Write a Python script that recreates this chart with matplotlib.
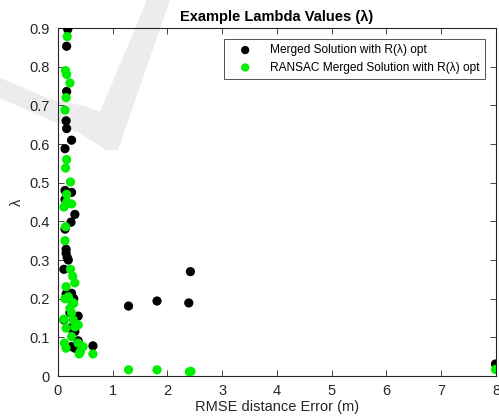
#!/usr/bin/env python3
# -*- coding: utf-8 -*-
"""Example lambda values: RMSE distance error vs lambda, MATLAB-like scatter."""

import matplotlib
matplotlib.use("Agg")
import matplotlib as mpl
import matplotlib.pyplot as plt
from matplotlib.patches import Polygon

# Merged solution with R(lambda) opt (black)
MERGED_X = [0.18, 0.16, 0.16, 0.15, 0.16, 0.25, 0.13, 0.13, 0.25, 0.13,
            0.31, 0.24, 0.13, 0.15, 0.15, 0.17, 0.19, 0.11, 0.15, 0.25,
            0.29, 0.22, 0.37, 0.11, 0.22, 0.31, 0.37, 0.25, 0.31, 0.64,
            1.29, 1.81, 2.39, 2.42, 7.99]
MERGED_L = [0.897, 0.853, 0.736, 0.660, 0.640, 0.610, 0.588, 0.480, 0.475, 0.457,
            0.418, 0.398, 0.380, 0.328, 0.318, 0.307, 0.300, 0.276, 0.212, 0.214,
            0.200, 0.164, 0.155, 0.145, 0.124, 0.115, 0.091, 0.076, 0.072, 0.078,
            0.181, 0.194, 0.189, 0.270, 0.031]

# RANSAC merged solution with R(lambda) opt (green)
RANSAC_X = [0.17, 0.14, 0.16, 0.22, 0.15, 0.13, 0.16, 0.14, 0.23, 0.16,
            0.16, 0.25, 0.11, 0.14, 0.13, 0.23, 0.27, 0.31, 0.15, 0.13,
            0.19, 0.25, 0.29, 0.22, 0.25, 0.11, 0.28, 0.37, 0.15, 0.31,
            0.25, 0.12, 0.37, 0.46, 0.15, 0.39, 0.41, 0.64, 1.29, 1.81,
            2.40, 2.43, 7.99]
RANSAC_L = [0.878, 0.790, 0.780, 0.758, 0.720, 0.688, 0.560, 0.538, 0.502, 0.470,
            0.450, 0.445, 0.437, 0.386, 0.350, 0.276, 0.258, 0.241, 0.231, 0.200,
            0.205, 0.192, 0.188, 0.175, 0.163, 0.147, 0.145, 0.132, 0.124, 0.127,
            0.102, 0.085, 0.085, 0.076, 0.072, 0.057, 0.063, 0.057, 0.016, 0.016,
            0.011, 0.012, 0.017]

X_TICKS = list(range(0, 9))
Y_TICKS = [0, 0.1, 0.2, 0.3, 0.4, 0.5, 0.6, 0.7, 0.8, 0.9]
Y_TICK_LABELS = ["0", "0.1", "0.2", "0.3", "0.4", "0.5", "0.6", "0.7", "0.8", "0.9"]

AX_COLOR = "#262626"
GREEN = "#00ee00"
MARKER_S = 44
W_PX, H_PX = 499, 419

# faint background watermark outline (figure pixels, y measured from the top)
WATERMARK_PX = [(0, 78), (50, 99), (85, 106), (100, 112), (147, 0), (170, 0),
                (118, 150), (106, 150), (80, 133), (50, 120), (0, 98)]


def main():
    mpl.rcParams.update({
        "font.family": ["Liberation Sans", "DejaVu Sans"],
        "axes.linewidth": 0.8,
        "axes.edgecolor": AX_COLOR,
        "xtick.color": AX_COLOR,
        "ytick.color": AX_COLOR,
    })
    fig = plt.figure(figsize=(W_PX / 100, H_PX / 100), dpi=100)
    wm = Polygon([(x / W_PX, 1 - y / H_PX) for x, y in WATERMARK_PX], closed=True,
                 transform=fig.transFigure, facecolor="#ececec", edgecolor="none",
                 zorder=-5)
    fig.patches.append(wm)

    ax = fig.add_axes([0.116, 0.1026, 0.994 - 0.116, 0.933 - 0.1026])
    ax.set_facecolor("none")
    ax.set_zorder(2)

    ax.scatter(MERGED_X, MERGED_L, s=MARKER_S, color="black", edgecolors="none",
               label="Merged Solution with R(λ) opt", zorder=3)
    ax.scatter(RANSAC_X, RANSAC_L, s=MARKER_S, color=GREEN, edgecolors="none",
               label="RANSAC Merged Solution with R(λ) opt", zorder=3)

    ax.set_xlim(0, 8)
    ax.set_ylim(0, 0.9)
    ax.set_xticks(X_TICKS)
    ax.set_yticks(Y_TICKS)
    ax.set_yticklabels(Y_TICK_LABELS)
    ax.tick_params(direction="in", top=True, right=True, length=4, width=0.6,
                   labelsize=10.5, pad=6)
    ax.set_xlabel("RMSE distance Error (m)", fontsize=10.5, color=AX_COLOR, labelpad=1)
    ax.set_ylabel("λ", fontsize=10.5, color=AX_COLOR, labelpad=4)
    ax.set_title("Example Lambda Values (λ)", fontsize=10.5, fontweight="bold", pad=5)

    leg = ax.legend(loc="upper right", fontsize=8.6, frameon=True, fancybox=False,
                    borderpad=0.45, handletextpad=0.8, handlelength=2.6,
                    borderaxespad=0.9, labelspacing=0.45, markerscale=0.9)
    leg.get_frame().set_edgecolor(AX_COLOR)
    leg.get_frame().set_linewidth(0.7)

    fig.savefig("out.png", dpi=100)
    plt.close(fig)


if __name__ == "__main__":
    main()
